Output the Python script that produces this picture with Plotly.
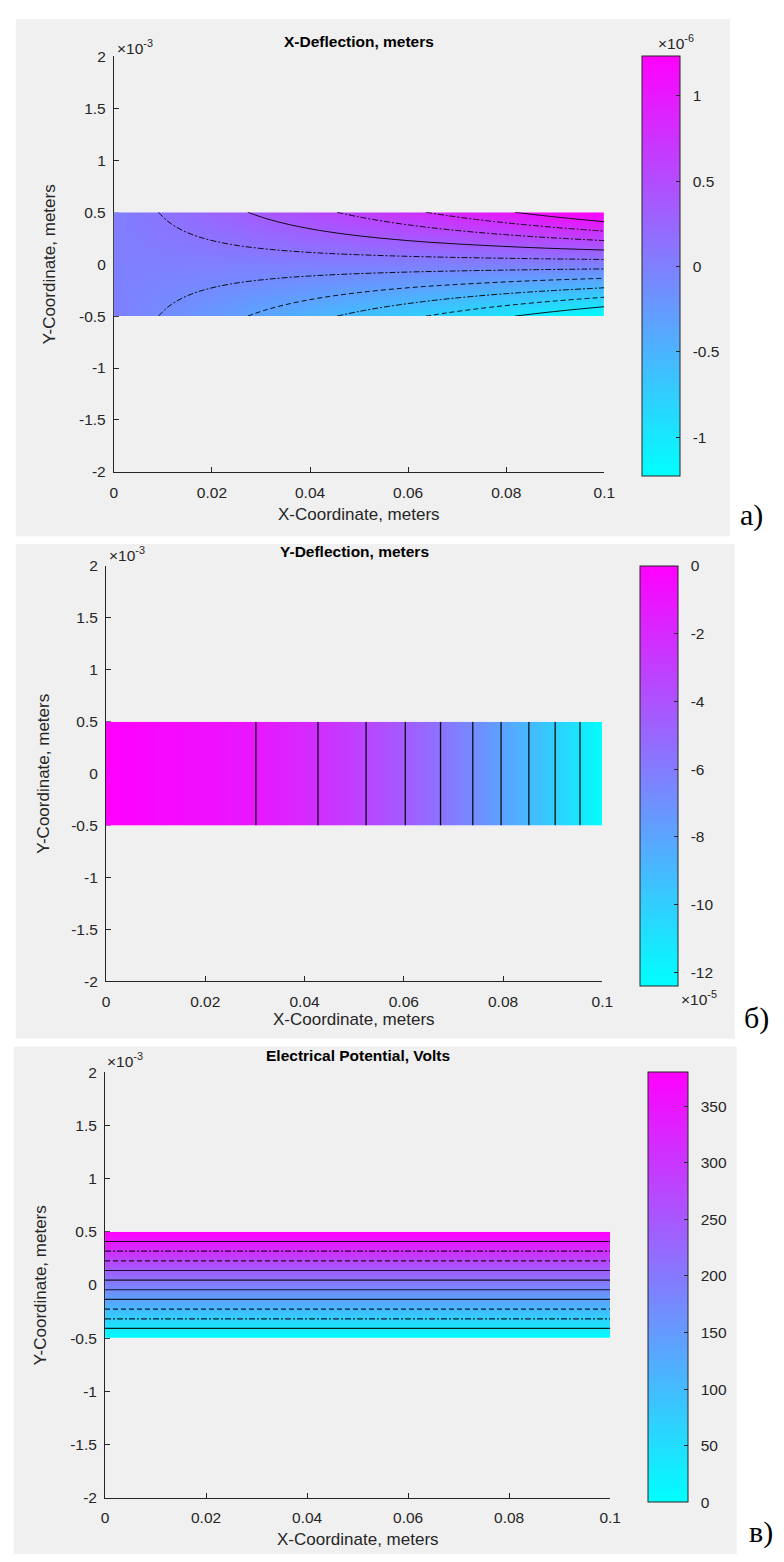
import plotly.graph_objects as go

W, H = 784, 1562

# ---------------- DATA ----------------
# Panel а: X-Deflection, meters  (field sampled at beam corners)
xdef_node_x = [0.0, 0.1]
xdef_node_y = [-0.5e-3, 0.5e-3]
xdef_node_z = [[0.0, -1.23e-6], [0.0, 1.23e-6]]
xdef_zrange = [-1.23e-6, 1.23e-6]
# contour curves, x in m, y in units of 1e-3 m
xdef_lines_x = [
    [0.0091, 0.011, 0.014, 0.018, 0.024, 0.032, 0.042, 0.055, 0.07, 0.085, 0.1],
    [0.0273, 0.031, 0.036, 0.042, 0.05, 0.06, 0.07, 0.085, 0.1],
    [0.0455, 0.05, 0.056, 0.064, 0.073, 0.085, 0.1],
    [0.0636, 0.068, 0.074, 0.081, 0.09, 0.1],
    [0.0818, 0.086, 0.091, 0.1],
    [0.0091, 0.011, 0.014, 0.018, 0.024, 0.032, 0.042, 0.055, 0.07, 0.085, 0.1],
    [0.0273, 0.031, 0.036, 0.042, 0.05, 0.06, 0.07, 0.085, 0.1],
    [0.0455, 0.05, 0.056, 0.064, 0.073, 0.085, 0.1],
    [0.0636, 0.068, 0.074, 0.081, 0.09, 0.1],
    [0.0818, 0.086, 0.091, 0.1],
]
xdef_lines_y = [
    [0.5, 0.413, 0.325, 0.253, 0.189, 0.142, 0.108, 0.0826, 0.0649, 0.0535, 0.0455],
    [0.5, 0.440, 0.379, 0.325, 0.273, 0.227, 0.195, 0.160, 0.136],
    [0.5, 0.455, 0.406, 0.355, 0.311, 0.267, 0.227],
    [0.5, 0.468, 0.430, 0.393, 0.354, 0.318],
    [0.5, 0.476, 0.450, 0.409],
    [-0.5, -0.413, -0.325, -0.253, -0.189, -0.142, -0.108, -0.0826, -0.0649, -0.0535, -0.0455],
    [-0.5, -0.440, -0.379, -0.325, -0.273, -0.227, -0.195, -0.160, -0.136],
    [-0.5, -0.455, -0.406, -0.355, -0.311, -0.267, -0.227],
    [-0.5, -0.468, -0.430, -0.393, -0.354, -0.318],
    [-0.5, -0.476, -0.450, -0.409],
]
xdef_lines_dash = ["dashdot", "solid", "dashdot", "dashdot", "solid",
                   "dashdot", "dash", "dashdot", "dash", "solid"]
xdef_cbar_vals = [-1e-6, -0.5e-6, 0.0, 0.5e-6, 1e-6]
xdef_cbar_text = ["-1", "-0.5", "0", "0.5", "1"]

# Panel б: Y-Deflection, meters (values at contour crossings along x)
ydef_node_x = [0.0, 0.0302, 0.0427, 0.0524, 0.0603, 0.0674, 0.0739,
               0.0796, 0.0852, 0.0905, 0.0955, 0.1]
ydef_node_z = [0.0, -1.127e-5, -2.255e-5, -3.382e-5, -4.509e-5, -5.636e-5,
               -6.764e-5, -7.891e-5, -9.018e-5, -10.145e-5, -11.273e-5, -12.4e-5]
ydef_node_y = [-0.5e-3, 0.5e-3]
ydef_zrange = [-12.4e-5, 0.0]
ydef_lines_x = [0.0302, 0.0427, 0.0524, 0.0603, 0.0674, 0.0739,
                0.0796, 0.0852, 0.0905, 0.0955]
ydef_cbar_vals = [0.0, -2e-5, -4e-5, -6e-5, -8e-5, -10e-5, -12e-5]
ydef_cbar_text = ["0", "-2", "-4", "-6", "-8", "-10", "-12"]

# Panel в: Electrical Potential, Volts
pot_node_x = [0.0, 0.1]
pot_node_y = [-0.5e-3, 0.5e-3]
pot_node_z = [[0.0, 0.0], [380.0, 380.0]]
pot_zrange = [0.0, 380.0]
pot_lines_y = [0.409, 0.318, 0.227, 0.136, 0.045, -0.045, -0.136, -0.227, -0.318, -0.409]
pot_lines_dash = ["solid", "dashdot", "dash", "solid", "solid",
                  "solid", "solid", "dash", "dashdot", "solid"]
pot_cbar_vals = [0, 50, 100, 150, 200, 250, 300, 350]
pot_cbar_text = ["0", "50", "100", "150", "200", "250", "300", "350"]

# axis ticks
x_tick_vals = [0.0, 0.02, 0.04, 0.06, 0.08, 0.1]
x_tick_text = ["0", "0.02", "0.04", "0.06", "0.08", "0.1"]
y_tick_vals = [-2e-3, -1.5e-3, -1e-3, -0.5e-3, 0.0, 0.5e-3, 1e-3, 1.5e-3, 2e-3]
y_tick_text = ["-2", "-1.5", "-1", "-0.5", "0", "0.5", "1", "1.5", "2"]

titles = ["X-Deflection, meters", "Y-Deflection, meters", "Electrical Potential, Volts"]
panel_labels = ["а)", "б)", "в)"]

# ---------------- LAYOUT GEOMETRY (pixels) ----------------
panels = [
    dict(bg=(12, 10, 740, 533), plot=(112, 48, 612, 468), cbar=(650, 38),
         title_y=33, exp3=(113, 38), xtitle_y=511, ytitle_x=46, label=(748, 512)),
    dict(bg=(12, 541, 745, 1041), plot=(104, 563, 610, 983), cbar=(648, 38),
         title_y=548, exp3=(105, 551), xtitle_y=1022, ytitle_x=40, label=(752, 1020)),
    dict(bg=(10, 1049, 747, 1562), plot=(103, 1075, 618, 1505), cbar=(657, 40),
         title_y=1058, exp3=(103, 1063), xtitle_y=1547, ytitle_x=38, label=(757, 1540)),
]

DASH = {"solid": "solid", "dash": "5px,3px", "dashdot": "6px,2px,2px,2px"}


def px(v):
    return v / W


def py(v):
    return 1 - v / H


FONT = "Liberation Sans, Arial, Helvetica, sans-serif"
AXC = "#262626"
TICK_SIZE = 15.5
LABEL_SIZE = 17
TITLE_SIZE = 15.5
cool = [[0.0, "rgb(0,255,255)"], [1.0, "rgb(255,0,255)"]]

fig = go.Figure()
layout = dict(width=W, height=H, margin=dict(l=0, r=0, t=0, b=0),
              paper_bgcolor="white", plot_bgcolor="white", showlegend=False,
              shapes=[], annotations=[])

for i, p in enumerate(panels):
    n = i + 1
    xid = "x" if n == 1 else f"x{n}"
    yid = "y" if n == 1 else f"y{n}"
    bid = f"y{n + 3}"
    xl, yt, xr, yb = p["plot"]
    xdom = [px(xl), px(xr)]
    ydom = [py(yb), py(yt)]
    bdom = [ydom[0] + 0.375 * (ydom[1] - ydom[0]), ydom[0] + 0.625 * (ydom[1] - ydom[0])]

    layout["xaxis" if n == 1 else f"xaxis{n}"] = dict(
        domain=xdom, range=[0, 0.1], anchor=yid, tickvals=x_tick_vals, ticktext=x_tick_text,
        ticks="inside", ticklen=5, tickcolor=AXC, showline=True, linecolor=AXC, linewidth=1,
        showgrid=False, zeroline=False, tickfont=dict(family=FONT, size=TICK_SIZE, color=AXC),
        ticklabelstandoff=6, fixedrange=True)
    layout["yaxis" if n == 1 else f"yaxis{n}"] = dict(
        domain=ydom, range=[-2e-3, 2e-3], anchor=xid, tickvals=y_tick_vals, ticktext=y_tick_text,
        ticks="inside", ticklen=5, tickcolor=AXC, showline=True, linecolor=AXC, linewidth=1,
        showgrid=False, zeroline=False, tickfont=dict(family=FONT, size=TICK_SIZE, color=AXC),
        ticklabelstandoff=4, fixedrange=True)
    layout[f"yaxis{n + 3}"] = dict(domain=bdom, range=[-0.5e-3, 0.5e-3], anchor=xid,
                                   visible=False, fixedrange=True)

    fig.add_trace(go.Scatter(x=[0.05], y=[1.5e-3], mode="markers", marker=dict(opacity=0),
                             hoverinfo="skip", xaxis=xid, yaxis=yid))

    # grey figure background
    bx0, by0, bx1, by1 = p["bg"]
    layout["shapes"].append(dict(type="rect", xref="paper", yref="paper", x0=px(bx0), x1=px(bx1),
                                 y0=py(by1), y1=py(by0), fillcolor="#f0f0f0", line=dict(width=0),
                                 layer="below"))

    cbx, cbth = p["cbar"]
    cb = dict(x=px(cbx), xanchor="left", xref="paper", y=py(yt), yanchor="top", yref="paper",
              len=yb - yt, lenmode="pixels", thickness=cbth, thicknessmode="pixels",
              xpad=0, ypad=0, outlinewidth=1, outlinecolor=AXC, ticks="inside", ticklen=4,
              tickcolor=AXC, tickfont=dict(family=FONT, size=TICK_SIZE, color=AXC))

    if i == 0:
        cb.update(tickvals=xdef_cbar_vals, ticktext=["\u00a0\u00a0" + t for t in xdef_cbar_text])
        fig.add_trace(go.Heatmap(x=xdef_node_x, y=xdef_node_y, z=xdef_node_z, zsmooth="best",
                                 colorscale=cool, zmin=xdef_zrange[0], zmax=xdef_zrange[1],
                                 colorbar=cb, hoverinfo="skip", xaxis=xid, yaxis=bid))
        for lx, ly, ld in zip(xdef_lines_x, xdef_lines_y, xdef_lines_dash):
            fig.add_trace(go.Scatter(x=lx, y=[v * 1e-3 for v in ly], mode="lines",
                                     line=dict(color="black", width=1, dash=DASH[ld],
                                               shape="spline"),
                                     opacity=0.9, hoverinfo="skip", xaxis=xid, yaxis=bid))
    elif i == 1:
        cb.update(tickvals=ydef_cbar_vals, ticktext=["\u00a0\u00a0" + t for t in ydef_cbar_text])
        fig.add_trace(go.Heatmap(x=ydef_node_x, y=ydef_node_y, z=[ydef_node_z, ydef_node_z],
                                 zsmooth="best", colorscale=cool, zmin=ydef_zrange[0],
                                 zmax=ydef_zrange[1], colorbar=cb, hoverinfo="skip",
                                 xaxis=xid, yaxis=bid))
        for lx in ydef_lines_x:
            fig.add_trace(go.Scatter(x=[lx, lx], y=ydef_node_y, mode="lines",
                                     line=dict(color="black", width=1.3),
                                     opacity=0.9, hoverinfo="skip", xaxis=xid, yaxis=bid))
    else:
        cb.update(tickvals=pot_cbar_vals, ticktext=["\u00a0\u00a0" + t for t in pot_cbar_text])
        fig.add_trace(go.Heatmap(x=pot_node_x, y=pot_node_y, z=pot_node_z, zsmooth="best",
                                 colorscale=cool, zmin=pot_zrange[0], zmax=pot_zrange[1],
                                 colorbar=cb, hoverinfo="skip", xaxis=xid, yaxis=bid))
        for ly, ld in zip(pot_lines_y, pot_lines_dash):
            fig.add_trace(go.Scatter(x=pot_node_x, y=[ly * 1e-3, ly * 1e-3], mode="lines",
                                     line=dict(color="black", width=1.2, dash=DASH[ld]),
                                     opacity=0.85, hoverinfo="skip", xaxis=xid, yaxis=bid))

    cx = (xl + xr) / 2
    ann = layout["annotations"]
    ann.append(dict(text="<b>" + titles[i] + "</b>", x=px(cx), y=py(p["title_y"]), xref="paper",
                    yref="paper", xanchor="center", yanchor="middle", showarrow=False,
                    font=dict(family=FONT, size=TITLE_SIZE, color="black")))
    ann.append(dict(text="×10<sup>-3</sup>", x=px(p["exp3"][0]), y=py(p["exp3"][1]), xref="paper",
                    yref="paper", xanchor="left", yanchor="middle", showarrow=False,
                    font=dict(family=FONT, size=TICK_SIZE, color=AXC)))
    ann.append(dict(text="X-Coordinate, meters", x=px(cx), y=py(p["xtitle_y"]), xref="paper",
                    yref="paper", xanchor="center", yanchor="middle", showarrow=False,
                    font=dict(family=FONT, size=LABEL_SIZE, color=AXC)))
    ann.append(dict(text="Y-Coordinate, meters", x=px(p["ytitle_x"]), y=py((yt + yb) / 2),
                    xref="paper", yref="paper", xanchor="center", yanchor="middle",
                    textangle=-90, showarrow=False,
                    font=dict(family=FONT, size=LABEL_SIZE, color=AXC)))
    ann.append(dict(text=panel_labels[i], x=px(p["label"][0]), y=py(p["label"][1]), xref="paper",
                    yref="paper", xanchor="left", yanchor="middle", showarrow=False,
                    font=dict(family="Liberation Serif, Times New Roman, serif", size=30,
                              color="black")))

# colorbar exponent labels
layout["annotations"].append(dict(text="×10<sup>-6</sup>", x=px(665), y=py(33), xref="paper",
                                  yref="paper", xanchor="left", yanchor="middle", showarrow=False,
                                  font=dict(family=FONT, size=TICK_SIZE, color=AXC)))
layout["annotations"].append(dict(text="×10<sup>-5</sup>", x=px(688), y=py(1000), xref="paper",
                                  yref="paper", xanchor="left", yanchor="middle", showarrow=False,
                                  font=dict(family=FONT, size=TICK_SIZE, color=AXC)))

fig.update_layout(**layout)
fig.write_html("out.html",
               config={"displayModeBar": False, "staticPlot": True},
               post_script="document.body.style.margin='0px';"
                           "document.body.style.padding='0px';"
                           "document.body.style.overflow='hidden';")
